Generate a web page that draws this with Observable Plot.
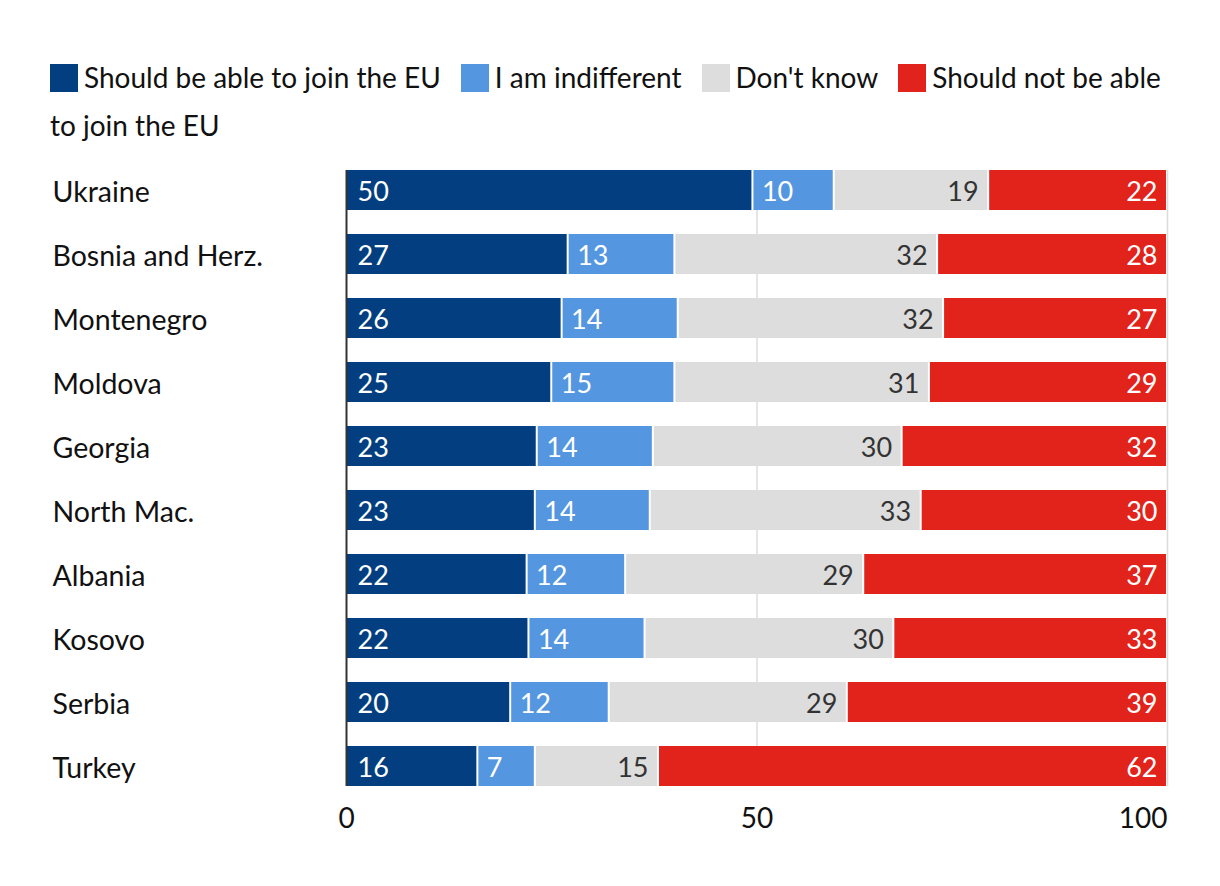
<!DOCTYPE html>
<html><head><meta charset="utf-8">
<script src="https://cdn.jsdelivr.net/npm/d3@7"></script>
<script src="https://cdn.jsdelivr.net/npm/@observablehq/plot@0.6"></script>
<style>
body{margin:0;background:#fff;font-family:Lato, "Open Sans", sans-serif;}
#legend{padding:53px 0 0 50px;width:1140px;font-size:28px;line-height:48px;color:#111;}
.item{margin-right:20px}
.sw{display:inline-block;width:28px;height:28px;vertical-align:-4px;margin-right:6px}
#chart svg{display:block}
</style></head><body>
<div id="legend"></div><div id="chart"></div>
<script>
const countries = ["Ukraine","Bosnia and Herz.","Montenegro","Moldova","Georgia","North Mac.","Albania","Kosovo","Serbia","Turkey"];
const answers = ["Should be able to join the EU","I am indifferent","Don't know","Should not be able to join the EU"];
const colors = ["#033f80","#5596e1","#dddddd","#e1231b"];
const yes = [50,27,26,25,23,23,22,22,20,16];
const indifferent = [10,13,14,15,14,14,12,14,12,7];
const dontKnow = [19,32,32,31,30,33,29,30,29,15];
const no = [22,28,27,29,32,30,37,33,39,62];
const xTicks = [0,50,100];

const series = [yes, indifferent, dontKnow, no];
const rows = [];
countries.forEach((c,i)=>answers.forEach((a,j)=>rows.push({country:c, answer:a, value:series[j][i]})));

// legend
const legend = document.getElementById("legend");
answers.forEach((a,j)=>{
  const s = document.createElement("span");
  s.className = "item";
  const sw = document.createElement("span");
  sw.className = "sw"; sw.style.background = colors[j];
  s.appendChild(sw);
  if (j === 3) {
    s.appendChild(document.createTextNode("Should not be able"));
    s.appendChild(document.createElement("br"));
    s.appendChild(document.createTextNode("to join the EU"));
  } else s.appendChild(document.createTextNode(a));
  legend.appendChild(s);
});

const stackOpts = {x:"value", y:"country", z:"answer", order: answers, offset:"normalize"};
const lbl = (ans) => d => d.answer === ans ? String(d.value) : "";

const chart = Plot.plot({
  width: 1220,
  height: 700,
  marginLeft: 346,
  marginRight: 53,
  marginTop: 21,
  marginBottom: 63,
  style: {fontFamily: "Lato, 'Open Sans', sans-serif", fontSize: "27px", color: "#111", background: "#fff"},
  x: {domain:[0,1], axis: null, label: null},
  y: {domain: countries, paddingInner: 0.375, paddingOuter: 0, axis: null, label: null},
  color: {domain: answers, range: colors},
  marks: [
    Plot.gridX(xTicks.slice(1).map(d=>d/100), {stroke:"#dcdcdc", strokeOpacity:1, strokeWidth:1.5}),
    Plot.barX(rows, Plot.stackX({...stackOpts, fill:"answer", insetLeft:1, insetRight:1})),
    Plot.text(rows, Plot.stackX1({...stackOpts, text: lbl(answers[0]), textAnchor:"start", dx:11, dy:1.5, fill:"white", fontSize:27})),
    Plot.text(rows, Plot.stackX1({...stackOpts, text: lbl(answers[1]), textAnchor:"start", dx:9, dy:1.5, fill:"white", fontSize:27})),
    Plot.text(rows, Plot.stackX2({...stackOpts, text: lbl(answers[2]), textAnchor:"end", dx:-10, dy:1.5, fill:"#333", fontSize:27})),
    Plot.text(rows, Plot.stackX2({...stackOpts, text: lbl(answers[3]), textAnchor:"end", dx:-10, dy:1.5, fill:"white", fontSize:27})),
    Plot.ruleX([0], {stroke:"#333", strokeWidth:2}),
    Plot.axisY({tickSize:0, tickPadding:0, textAnchor:"start", dx:-294, dy:2, fontSize:28.5, fill:"#111", label:null}),
    Plot.axisX(xTicks.slice(0,2).map(d=>d/100), {tickSize:0, tickPadding:22, tickFormat:d=>Math.round(d*100), fontSize:28, fill:"#111", label:null}),
    Plot.axisX([1], {tickSize:0, tickPadding:22, tickFormat:d=>Math.round(d*100), textAnchor:"end", fontSize:28, fill:"#111", label:null})
  ]
});
document.getElementById("chart").appendChild(chart);
</script>
</body></html>
